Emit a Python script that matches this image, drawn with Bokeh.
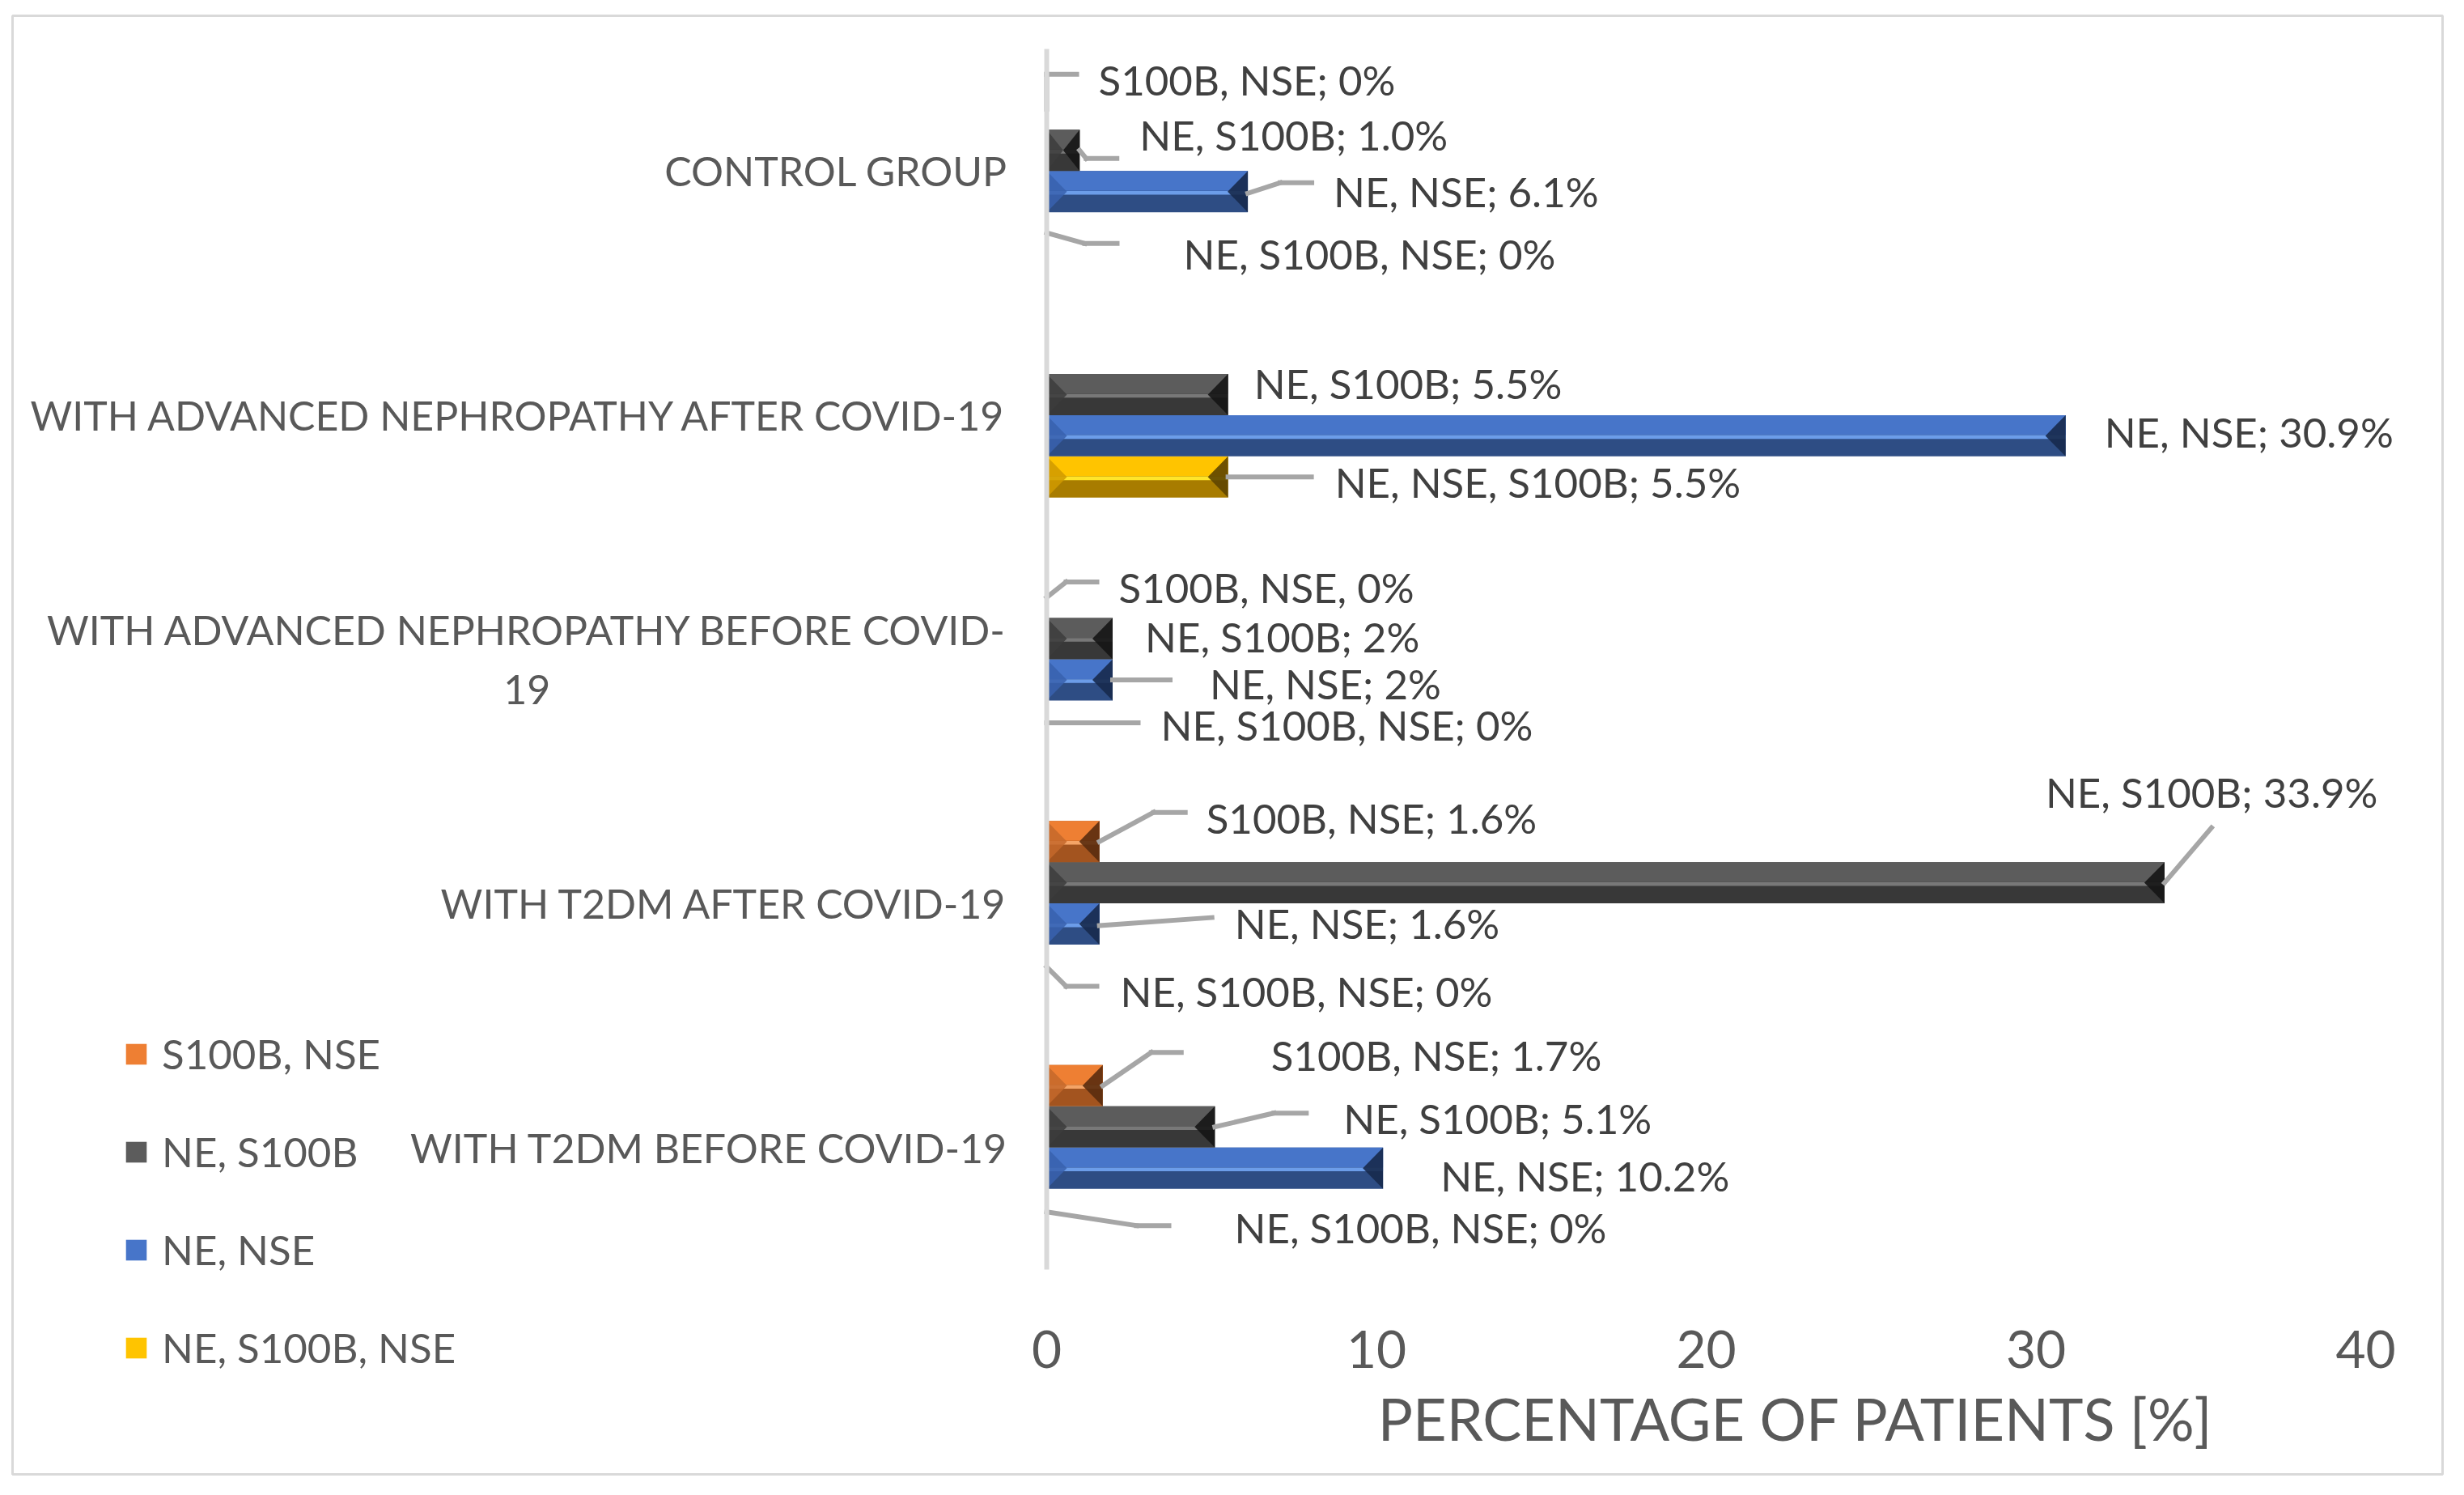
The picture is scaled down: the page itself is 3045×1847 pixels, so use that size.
import math
from bokeh.plotting import figure
from bokeh.models import (ColumnDataSource, Range1d, FixedTicker, LabelSet, Legend, LegendItem)
from bokeh.transform import dodge
from bokeh.core.properties import value
from bokeh.embed import file_html
from bokeh.resources import INLINE

# ---------------- data ----------------
categories = ["WITH T2DM BEFORE COVID-19", "WITH T2DM AFTER COVID-19",
              "WITH ADVANCED NEPHROPATHY BEFORE COVID-19",
              "WITH ADVANCED NEPHROPATHY AFTER COVID-19", "CONTROL GROUP"]
series_names = ["NE, S100B, NSE", "NE, NSE", "NE, S100B", "S100B, NSE"]   # bottom -> top in a group
ne_s100b_nse = [0, 0, 0, 5.5, 0]
ne_nse = [10.2, 1.6, 2, 30.9, 6.1]
ne_s100b = [5.1, 33.9, 2, 5.5, 1.0]
s100b_nse = [1.7, 1.6, 0, float("nan"), 0]
x_ticks = [0, 10, 20, 30, 40]
legend_order = ["S100B, NSE", "NE, S100B", "NE, NSE", "NE, S100B, NSE"]

label_cat = [4, 4, 4, 4, 3, 3, 3, 2, 2, 2, 2, 1, 1, 1, 1, 0, 0, 0, 0]
label_series = [3, 2, 1, 0, 2, 1, 0, 3, 2, 1, 0, 3, 2, 1, 0, 3, 2, 1, 0]
label_text = ["S100B, NSE; 0%", "NE, S100B; 1.0%", "NE, NSE; 6.1%", "NE, S100B, NSE; 0%",
              "NE, S100B; 5.5%", "NE, NSE; 30.9%", "NE, NSE, S100B; 5.5%",
              "S100B, NSE, 0%", "NE, S100B; 2%", "NE, NSE; 2%", "NE, S100B, NSE; 0%",
              "S100B, NSE; 1.6%", "NE, S100B; 33.9%", "NE, NSE; 1.6%", "NE, S100B, NSE; 0%",
              "S100B, NSE; 1.7%", "NE, S100B; 5.1%", "NE, NSE; 10.2%", "NE, S100B, NSE; 0%"]

# ---------------- layout / style ----------------
label_dx = [64, 74, 106, 169, 32, 48, 132, 89, 40, 120, 141, 132, -147, 167, 91, 208, 159, 71, 232]
label_dy = [-40.5, -23.5, -4.5, 21.5, -17.5, -8.5, 2.5, -17, -7, 1, 1,
            -33.5, -116.5, -5.5, 27.5, -41.5, -14.5, 5.5, 18.5]
leaders = [
    [(0, 0), (0, -43), (37, -43)], [(0, 0), (8, 10), (46, 10)], [(0, 2), (40, -11), (79, -11)],
    [(0, 0), (47, 13), (87, 13)], [], [], [(0, 0), (103, 0)],
    [(0, 0), (24, -19), (62, -19)], [], [(0, 0), (71, 0)], [(0, 2), (113, 2)],
    [(0, 0), (67, -36), (106, -36)], [(0, 0), (58, -68)], [(0, 2), (139, -8)], [(0, 2), (24, 26), (62, 26)],
    [(0, 0), (60, -41), (97, -41)], [(0, 0), (73, -17), (113, -17)], [], [(0, 3), (111, 20), (151, 20)],
]
top_col = ["#ffc400", "#4775c9", "#5c5c5c", "#ee7f33"]
bot_col = ["#a87c00", "#2e4d84", "#383838", "#a3541f"]
hi_col = ["#ffe52a", "#6c9de9", "#787878", "#f4a467"]
lf_col = ["#d09a00", "#3862ae", "#3c3c3c", "#c4682c"]
rf_col = ["#5e4500", "#172a4c", "#151515", "#5a2c0e"]
leg_col = ["#ffc000", "#4472c4", "#4a4a4a", "#ed7d31"]
FONT = "Lato"
TXT = "#595959"

W, H = 3029, 1831
BL, BR, BT, BB = 15, 3018, 19, 1821          # outer chart border (= frame)
PL, PR, PT, PB = 1293, 2923, 60, 1568        # plot area for x 0..40 and the 5 category bands
PX_X = (PR - PL) / 40.0
PX_Y = (PB - PT) / 5.0
BAR_H = 0.169
BEVEL_PX = 25

x_range = Range1d((BL - PL) / PX_X, (BR - PL) / PX_X)
y_range = Range1d(-(BB - PB) / PX_Y, 5 + (PT - BT) / PX_Y)

p = figure(width=W, height=H, x_range=x_range, y_range=y_range,
           output_backend="svg", toolbar_location=None,
           min_border_left=BL, min_border_right=W - BR, min_border_top=BT, min_border_bottom=H - BB)
p.outline_line_color = "#d9d9d9"
p.outline_line_width = 3
p.grid.visible = False
p.background_fill_color = "white"
p.border_fill_color = "white"

ypos = [i + 0.5 for i in range(len(categories))]
series_vals = [ne_s100b_nse, ne_nse, ne_s100b, s100b_nse]
src = ColumnDataSource(dict(y=ypos, s0=ne_s100b_nse, s1=ne_nse, s2=ne_s100b, s3=s100b_nse))
offs = [(i - 1.5) * BAR_H for i in range(4)]
legend_r = {}
for i in range(4):
    f = "s%d" % i
    p.hbar(y=dodge("y", offs[i]), left=0, right=f, height=BAR_H,
           source=src, fill_color=bot_col[i], line_color=None)
    rt = p.hbar(y=dodge("y", offs[i] + BAR_H * 0.26), left=0, right=f,
                height=BAR_H * 0.48, source=src, fill_color=top_col[i], line_color=None)
    p.hbar(y=dodge("y", offs[i] - BAR_H * 0.03), left=0, right=f,
           height=BAR_H * 0.09, source=src, fill_color=hi_col[i], line_color=None)
    legend_r[series_names[i]] = rt
    # bevelled end facets of each bar, from the bar's value
    lxs, lys, rxs, rys = [], [], [], []
    for c, v in enumerate(series_vals[i]):
        if isinstance(v, float) and math.isnan(v) or v <= 0:
            continue
        b = min(BEVEL_PX / PX_X, v / 2.0)
        yc = ypos[c] + offs[i]
        yt, yb = yc + BAR_H / 2, yc - BAR_H / 2
        lxs.append([0, b, 0]); lys.append([yt, yc, yb])
        rxs.append([v, v - b, v]); rys.append([yt, yc, yb])
    p.patches(lxs, lys, fill_color=lf_col[i], line_color=None, fill_alpha=0.85)
    p.patches(rxs, rys, fill_color=rf_col[i], line_color=None, fill_alpha=0.9)

# leader lines + data labels
x0s, y0s, x1s, y1s = [], [], [], []
lx, ly = [], []
for k in range(len(label_text)):
    c, s = label_cat[k], label_series[k]
    v = series_vals[s][c]
    v = 0 if (isinstance(v, float) and math.isnan(v)) else v
    yb = ypos[c] + offs[s]
    lx.append(v)
    ly.append(yb)
    pts = leaders[k]
    for a, b in zip(pts[:-1], pts[1:]):
        x0s.append(v + a[0] / PX_X); y0s.append(yb - a[1] / PX_Y)
        x1s.append(v + b[0] / PX_X); y1s.append(yb - b[1] / PX_Y)
lead_src = ColumnDataSource(dict(x0=x0s, y0=y0s, x1=x1s, y1=y1s))
p.segment(x0="x0", y0="y0", x1="x1", y1="y1", source=lead_src, line_color="#a6a6a6",
          line_width=6, line_cap="square")

lab_src = ColumnDataSource(dict(x=lx, y=ly, text=label_text, xo=label_dx,
                                yo=[-d - 4 for d in label_dy]))
p.add_layout(LabelSet(x="x", y="y", text="text", x_offset="xo", y_offset="yo", source=lab_src,
                      text_font=value(FONT), text_font_size="51px", text_color="#404040",
                      text_baseline="middle", text_align="left"))

# axes (placed at x = 0 and y = 0 inside the bordered area)
pad19 = "\u2003" * 12 + "\u00a0" * 9
overrides = {ypos[i]: categories[i] for i in range(len(categories))}
overrides[ypos[2]] = "WITH ADVANCED NEPHROPATHY BEFORE COVID-\n19" + pad19
p.yaxis.fixed_location = 0
p.yaxis.bounds = (0, 5)
p.yaxis.ticker = FixedTicker(ticks=ypos)
p.yaxis.major_label_overrides = overrides
p.yaxis.axis_line_color = "#d9d9d9"
p.yaxis.axis_line_width = 6
p.yaxis.major_tick_line_color = None
p.yaxis.minor_tick_line_color = None
p.yaxis.major_label_standoff = 42
p.yaxis.major_label_text_font = FONT
p.yaxis.major_label_text_font_size = "50px"
p.yaxis.major_label_text_color = TXT
p.yaxis.major_label_text_line_height = 1.22

p.xaxis.fixed_location = 0
p.xaxis.bounds = (0, 40)
p.xaxis.ticker = FixedTicker(ticks=x_ticks)
p.xaxis.axis_line_color = None
p.xaxis.major_tick_line_color = None
p.xaxis.minor_tick_line_color = None
p.xaxis.major_label_standoff = 69
p.xaxis.major_label_text_font = FONT
p.xaxis.major_label_text_font_size = "64px"
p.xaxis.major_label_text_color = TXT
p.xaxis.axis_label = "\u00a0" * 12 + "PERCENTAGE OF PATIENTS [%]"
p.xaxis.axis_label_text_font = FONT
p.xaxis.axis_label_text_font_size = "72px"
p.xaxis.axis_label_text_font_style = "normal"
p.xaxis.axis_label_text_color = TXT
p.xaxis.axis_label_standoff = 16

legend = Legend(items=[LegendItem(label=n, renderers=[legend_r[n]]) for n in legend_order],
                location=(137, 126), orientation="vertical",
                label_text_font=FONT, label_text_font_size="51px", label_text_color=TXT,
                glyph_width=32, glyph_height=32, label_standoff=16, spacing=60, padding=0,
                margin=0, border_line_color=None, background_fill_alpha=0)
p.add_layout(legend, "center")

open("out.html", "w").write(file_html(p, INLINE))
